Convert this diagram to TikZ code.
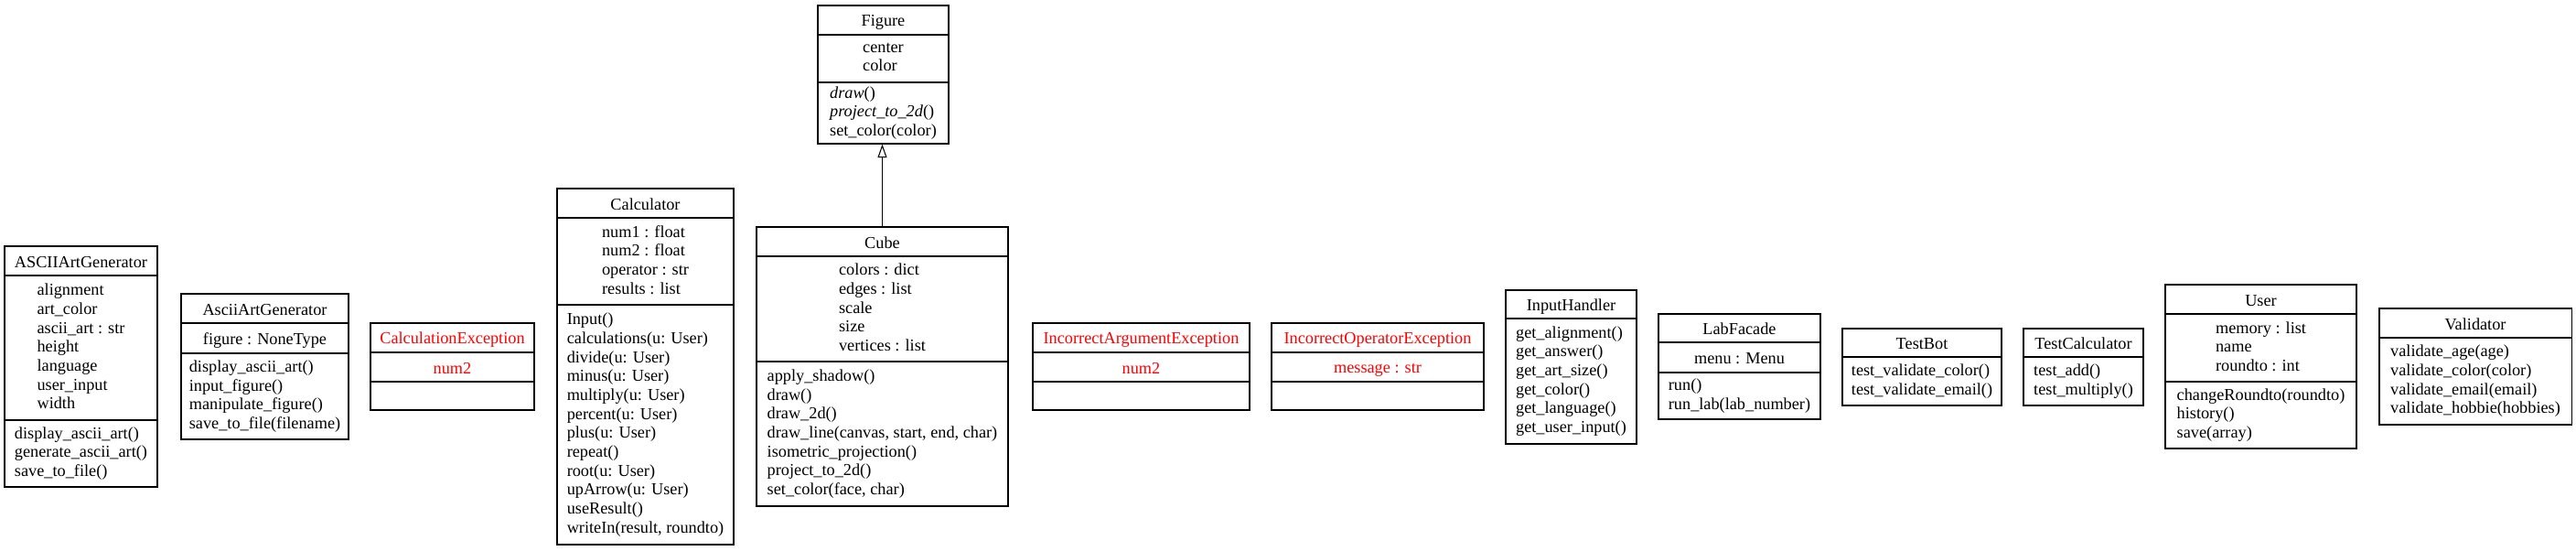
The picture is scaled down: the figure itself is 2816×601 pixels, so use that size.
\documentclass[tikz,border=0pt]{standalone}
\usepackage{fontspec}
\setmainfont{Liberation Serif}
\usetikzlibrary{fit,arrows.meta}
\newcommand\umlfont{\fontsize{13.7}{15.5}\selectfont}
\newcommand\ustrut{\rule[-2.5pt]{0pt}{15.5pt}}
\begin{document}
\begin{tikzpicture}[x=0.75pt,y=-0.75pt,
  classbox/.style={draw, line width=0.8pt, inner sep=0pt},
  sepline/.style={line width=0.8pt},
  txt/.style={align=left, inner sep=0pt, font=\umlfont, execute at begin node=\ustrut, execute at end node=\ustrut},
  exc/.style={txt, text=red},
  inherit/.style={line width=0.8pt, -{Triangle[open, length=11pt, width=7.5pt]}}]
\useasboundingbox (0,0) rectangle (2816,601);

% ASCIIArtGenerator
\node[classbox, fit={(5,269) (172,532)}] (asciiA) {};
\draw[sepline] (5,301) -- (172,301);
\draw[sepline] (5,459) -- (172,459);
\node[txt] (asciiA-t) at (88.5,285) {ASCIIArtGenerator};
\node[txt] (asciiA-a) at (88.5,380) {alignment\\art\_color\\ascii\_art : str\\height\\language\\user\_input\\width};
\node[txt] (asciiA-m) at (88.5,495.5) {display\_ascii\_art()\\generate\_ascii\_art()\\save\_to\_file()};

% AsciiArtGenerator
\node[classbox, fit={(198,321) (381,480)}] (asciiB) {};
\draw[sepline] (198,353) -- (381,353);
\draw[sepline] (198,386) -- (381,386);
\node[txt] (asciiB-t) at (289.5,337) {AsciiArtGenerator};
\node[txt] (asciiB-a) at (289.5,369.5) {figure : NoneType};
\node[txt] (asciiB-m) at (289.5,433) {display\_ascii\_art()\\input\_figure()\\manipulate\_figure()\\save\_to\_file(filename)};

% CalculationException
\node[classbox, fit={(405,353) (584,448)}] (calcexc) {};
\draw[sepline] (405,385) -- (584,385);
\draw[sepline] (405,417) -- (584,417);
\node[exc] (calcexc-t) at (494.5,369) {CalculationException};
\node[exc] (calcexc-a) at (494.5,401) {num2};

% Calculator
\node[classbox, fit={(609,206) (802,595)}] (calc) {};
\draw[sepline] (609,238) -- (802,238);
\draw[sepline] (609,333) -- (802,333);
\node[txt] (calc-t) at (705.5,222) {Calculator};
\node[txt] (calc-a) at (705.5,285.5) {num1 : float\\num2 : float\\operator : str\\results : list};
\node[txt] (calc-m) at (705.5,464) {Input()\\calculations(u: User)\\divide(u: User)\\minus(u: User)\\multiply(u: User)\\percent(u: User)\\plus(u: User)\\repeat()\\root(u: User)\\upArrow(u: User)\\useResult()\\writeIn(result, roundto)};

% Figure
\node[classbox, fit={(894,6) (1037,157)}] (figure) {};
\draw[sepline] (894,38) -- (1037,38);
\draw[sepline] (894,90) -- (1037,90);
\node[txt] (figure-t) at (965.5,22) {Figure};
\node[txt] (figure-a) at (965.5,64) {center\\color};
\node[txt] (figure-m) at (965.5,123.5) {\textit{draw}()\\\textit{project\_to\_2d}()\\set\_color(color)};

% Cube
\node[classbox, fit={(827,248) (1102,553)}] (cube) {};
\draw[sepline] (827,280) -- (1102,280);
\draw[sepline] (827,395) -- (1102,395);
\node[txt] (cube-t) at (964.5,264) {Cube};
\node[txt] (cube-a) at (964.5,337.5) {colors : dict\\edges : list\\scale\\size\\vertices : list};
\node[txt] (cube-m) at (964.5,474) {apply\_shadow()\\draw()\\draw\_2d()\\draw\_line(canvas, start, end, char)\\isometric\_projection()\\project\_to\_2d()\\set\_color(face, char)};

\draw[inherit] (cube.north) -- (cube.north |- figure.south);

% IncorrectArgumentException
\node[classbox, fit={(1129,353) (1366,448)}] (iae) {};
\draw[sepline] (1129,385) -- (1366,385);
\draw[sepline] (1129,417) -- (1366,417);
\node[exc] (iae-t) at (1247.5,369) {IncorrectArgumentException};
\node[exc] (iae-a) at (1247.5,401) {num2};

% IncorrectOperatorException
\node[classbox, fit={(1390,353) (1622,448)}] (ioe) {};
\draw[sepline] (1390,385) -- (1622,385);
\draw[sepline] (1390,417) -- (1622,417);
\node[exc] (ioe-t) at (1506,369) {IncorrectOperatorException};
\node[exc] (ioe-a) at (1506,401) {message : str};

% InputHandler
\node[classbox, fit={(1646,317) (1789,485)}] (ih) {};
\draw[sepline] (1646,348) -- (1789,348);
\node[txt] (ih-t) at (1717.5,332.5) {InputHandler};
\node[txt] (ih-m) at (1717.5,416.5) {get\_alignment()\\get\_answer()\\get\_art\_size()\\get\_color()\\get\_language()\\get\_user\_input()};

% LabFacade
\node[classbox, fit={(1813,343) (1990,458)}] (lf) {};
\draw[sepline] (1813,374) -- (1990,374);
\draw[sepline] (1813,407) -- (1990,407);
\node[txt] (lf-t) at (1901.5,358.5) {LabFacade};
\node[txt] (lf-a) at (1901.5,390.5) {menu : Menu};
\node[txt] (lf-m) at (1901.5,432.5) {run()\\run\_lab(lab\_number)};

% TestBot
\node[classbox, fit={(2014,359) (2188,443)}] (tb) {};
\draw[sepline] (2014,390) -- (2188,390);
\node[txt] (tb-t) at (2101,374.5) {TestBot};
\node[txt] (tb-m) at (2101,416.5) {test\_validate\_color()\\test\_validate\_email()};

% TestCalculator
\node[classbox, fit={(2212,359) (2343,443)}] (tc) {};
\draw[sepline] (2212,390) -- (2343,390);
\node[txt] (tc-t) at (2277.5,374.5) {TestCalculator};
\node[txt] (tc-m) at (2277.5,416.5) {test\_add()\\test\_multiply()};

% User
\node[classbox, fit={(2367,311) (2576,490)}] (user) {};
\draw[sepline] (2367,343) -- (2576,343);
\draw[sepline] (2367,417) -- (2576,417);
\node[txt] (user-t) at (2471.5,327) {User};
\node[txt] (user-a) at (2471.5,380) {memory : list\\name\\roundto : int};
\node[txt] (user-m) at (2471.5,453.5) {changeRoundto(roundto)\\history()\\save(array)};

% Validator
\node[classbox, fit={(2601,337) (2811,464)}] (val) {};
\draw[sepline] (2601,369) -- (2811,369);
\node[txt] (val-t) at (2706,353) {Validator};
\node[txt] (val-m) at (2706,416.5) {validate\_age(age)\\validate\_color(color)\\validate\_email(email)\\validate\_hobbie(hobbies)};
\end{tikzpicture}
\end{document}
